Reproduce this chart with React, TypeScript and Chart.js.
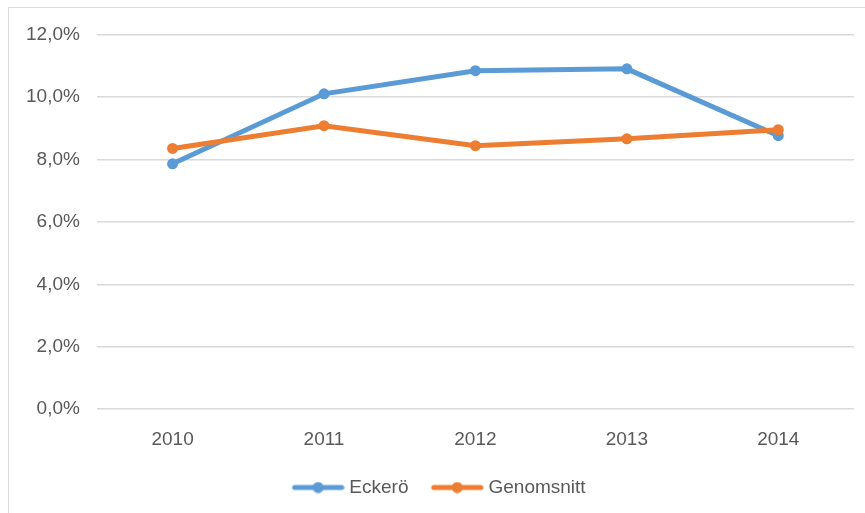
import React, { useEffect, useRef } from "react";
import { Chart, registerables } from "chart.js";

Chart.register(...registerables);

const years = ["2010", "2011", "2012", "2013", "2014"];
const eckeroValues = [7.86, 10.1, 10.84, 10.9, 8.76];
const genomsnittValues = [8.35, 9.08, 8.44, 8.66, 8.95];
const seriesNames = ["Eckerö", "Genomsnitt"];
const seriesColors = ["#5B9BD5", "#ED7D31"];
const yMin = 0;
const yMax = 12;
const yStep = 2;

const FONT = "'Liberation Sans', Arial, sans-serif";
const TEXT_COLOR = "#595959";

function makeLegendSymbol(color: string): HTMLCanvasElement {
  const c = document.createElement("canvas");
  c.width = 72;
  c.height = 12;
  const ctx = c.getContext("2d")!;
  ctx.strokeStyle = color;
  ctx.lineWidth = 5;
  ctx.lineCap = "round";
  ctx.beginPath();
  ctx.moveTo(22, 6);
  ctx.lineTo(69, 6);
  ctx.stroke();
  ctx.fillStyle = color;
  ctx.beginPath();
  ctx.arc(45.5, 6, 5.5, 0, Math.PI * 2);
  ctx.fill();
  return c;
}

export default function App() {
  const canvasRef = useRef<HTMLCanvasElement | null>(null);

  useEffect(() => {
    if (!canvasRef.current) return;
    const symbols = seriesColors.map((c) => makeLegendSymbol(c));
    const chart = new Chart(canvasRef.current, {
      type: "line",
      data: {
        labels: years,
        datasets: [
          {
            label: seriesNames[0],
            data: eckeroValues,
            borderColor: seriesColors[0],
            backgroundColor: seriesColors[0],
            borderWidth: 5,
            pointRadius: 5.5,
            pointHoverRadius: 5.5,
            pointBorderWidth: 0,
            tension: 0,
            order: 2,
          },
          {
            label: seriesNames[1],
            data: genomsnittValues,
            borderColor: seriesColors[1],
            backgroundColor: seriesColors[1],
            borderWidth: 5,
            pointRadius: 5.5,
            pointHoverRadius: 5.5,
            pointBorderWidth: 0,
            tension: 0,
            order: 1,
          },
        ],
      },
      options: {
        animation: false,
        responsive: false,
        maintainAspectRatio: false,
        layout: { padding: { top: 25, left: 0, right: 11, bottom: 14 } },
        scales: {
          x: {
            offset: true,
            grid: { display: false, drawTicks: false },
            border: { display: false },
            ticks: {
              padding: 19,
              color: TEXT_COLOR,
              font: { family: FONT, size: 19 },
            },
          },
          y: {
            min: yMin,
            max: yMax,
            grid: { color: "#d9d9d9", lineWidth: 1.5, drawTicks: false },
            border: { display: false },
            ticks: {
              stepSize: yStep,
              padding: 17,
              color: TEXT_COLOR,
              font: { family: FONT, size: 19, lineHeight: 1 },
              callback: (v: any) => Number(v).toFixed(1).replace(".", ",") + "%",
            },
          },
        },
        plugins: {
          tooltip: { enabled: false },
          legend: {
            position: "bottom",
            labels: {
              usePointStyle: true,
              pointStyleWidth: 62.5,
              padding: 8,
              color: TEXT_COLOR,
              font: { family: FONT, size: 19 },
              generateLabels: (ch: any) => {
                const base = Chart.defaults.plugins.legend.labels.generateLabels(ch);
                return base
                  .sort((a: any, b: any) => a.datasetIndex - b.datasetIndex)
                  .map((item: any) => ({
                    ...item,
                    pointStyle: symbols[item.datasetIndex],
                  }));
              },
            },
          },
        },
      },
    });
    return () => chart.destroy();
  }, []);

  return (
    <div
      style={{
        position: "fixed",
        left: 0,
        top: 0,
        width: 865,
        height: 513,
        overflow: "hidden",
        background: "#fff",
      }}
    >
      <div
        style={{
          position: "absolute",
          left: 8,
          top: 7,
          width: 870,
          height: 520,
          borderLeft: "1px solid #d9d9d9",
          borderTop: "1px solid #d9d9d9",
        }}
      >
        <canvas ref={canvasRef} width={856} height={513} style={{ display: "block" }} />
      </div>
    </div>
  );
}
